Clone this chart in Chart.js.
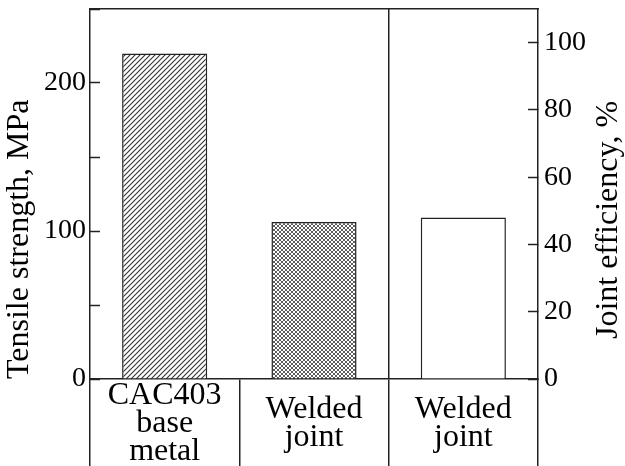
<!DOCTYPE html>
<html>
<head>
<meta charset="utf-8">
<title>Tensile strength and joint efficiency</title>
<script src="https://cdn.jsdelivr.net/npm/chart.js@4.4.1/dist/chart.umd.min.js"></script>
<style>
  html, body { margin: 0; padding: 0; background: #fff; }
  #wrap { width: 625px; height: 466px; position: relative; }
</style>
</head>
<body>
<div id="wrap"><canvas id="chart"></canvas></div>
<script>
// --- Data ---
const categories = [['CAC403', 'base', 'metal'], ['Welded', 'joint'], ['Welded', 'joint']];
const tensileStrength = [220, 106, null];   // MPa, left axis
const jointEfficiency = [null, null, 48];   // %, right axis
const leftTickLabels = [0, 100, 200];
const rightTickLabels = [0, 20, 40, 60, 80, 100];
const leftTitle = 'Tensile strength, MPa';
const rightTitle = 'Joint efficiency, %';

const INK = '#222';
const FONT = "'Liberation Serif', 'Times New Roman', serif";

// --- Fill patterns ---
const makePattern = (size, draw) => {
    const c = document.createElement('canvas');
    c.width = size;
    c.height = size;
    const g = c.getContext('2d');
    g.fillStyle = '#fff';
    g.fillRect(0, 0, size, size);
    g.strokeStyle = '#333';
    draw(g, size);
    return g.createPattern(c, 'repeat');
};

const hatch = makePattern(5, (g, s) => {
    g.lineWidth = 1.1;
    g.beginPath();
    for (let k = -1; k <= 1; k++) {
        g.moveTo(k * s - 1, s + 1);
        g.lineTo(k * s + s + 1, -1);
    }
    g.stroke();
});

const crossHatch = makePattern(4, (g, s) => {
    g.lineWidth = 0.8;
    g.beginPath();
    for (let k = -1; k <= 1; k++) {
        g.moveTo(k * s - 1, s + 1);
        g.lineTo(k * s + s + 1, -1);
        g.moveTo(k * s - 1, -1);
        g.lineTo(k * s + s + 1, s + 1);
    }
    g.stroke();
});

// keep the plot box exactly where the figure has it
const noPad = (s) => {
    s.paddingTop = 0;
    s.paddingBottom = 0;
    s.paddingLeft = 0;
    s.paddingRight = 0;
};

// --- Right axis title, reading bottom to top ---
const rightTitlePlugin = {
    id: 'rightTitle',
    afterDraw: (chart) => {
        const ctx = chart.ctx;
        ctx.save();
        ctx.translate(609, 220);
        ctx.rotate(-Math.PI / 2);
        ctx.font = `32px ${FONT}`;
        ctx.fillStyle = '#000';
        ctx.textAlign = 'center';
        ctx.textBaseline = 'middle';
        ctx.fillText(rightTitle, 0, 0);
        ctx.restore();
    }
};

const ctx = document.getElementById('chart').getContext('2d');
new Chart(ctx, {
    type: 'bar',
    data: {
        labels: categories,
        datasets: [
            {
                label: 'Tensile strength',
                data: tensileStrength,
                yAxisID: 'y',
                backgroundColor: [hatch, crossHatch, '#fff'],
                borderColor: INK,
                borderWidth: 1.5,
                grouped: false,
                categoryPercentage: 1,
                barPercentage: 0.57
            },
            {
                label: 'Joint efficiency',
                data: jointEfficiency,
                yAxisID: 'y1',
                backgroundColor: '#fff',
                borderColor: INK,
                borderWidth: 1.5,
                grouped: false,
                categoryPercentage: 1,
                barPercentage: 0.57
            }
        ]
    },
    options: {
        responsive: true,
        maintainAspectRatio: false,
        animation: false,
        layout: { padding: { top: 9, left: 0, right: 0, bottom: 0 } },
        plugins: { legend: { display: false }, tooltip: { enabled: false } },
        scales: {
            x: {
                type: 'category',
                offset: true,
                afterFit: (s) => { s.height = 87; noPad(s); },
                border: { display: true, color: INK, width: 1.5 },
                grid: {
                    offset: true,
                    drawTicks: true,
                    tickLength: 87,
                    tickWidth: 1.5,
                    tickColor: INK,
                    lineWidth: 1.5,
                    color: (c) => (c.index === 2 ? INK : 'rgba(0,0,0,0)')
                },
                ticks: {
                    autoSkip: false,
                    maxRotation: 0,
                    crossAlign: 'center',
                    padding: -70,
                    color: '#000',
                    font: { family: FONT, size: 32, lineHeight: 0.875 }
                }
            },
            xTop: {
                type: 'category',
                position: 'top',
                offset: true,
                afterFit: (s) => { s.height = 0; noPad(s); },
                border: { display: true, color: INK, width: 1.5 },
                grid: { display: false },
                ticks: { display: false }
            },
            y: {
                position: 'left',
                min: 0,
                max: 250,
                afterFit: (s) => { s.width = 90; noPad(s); },
                border: { display: true, color: INK, width: 1.5 },
                grid: { drawOnChartArea: false, tickLength: -10, tickWidth: 1.5, tickColor: INK },
                ticks: {
                    stepSize: 50,
                    padding: 14,
                    color: '#000',
                    font: { family: FONT, size: 28 },
                    callback: (v) => (leftTickLabels.includes(v) ? v : '')
                },
                title: {
                    display: true,
                    text: leftTitle,
                    align: 'start',
                    color: '#000',
                    padding: { top: 4, bottom: 0 },
                    font: { family: FONT, size: 32, lineHeight: 1 }
                }
            },
            y1: {
                position: 'right',
                min: 0,
                max: 110,
                afterFit: (s) => { s.width = 87; noPad(s); },
                border: { display: true, color: INK, width: 1.5 },
                grid: { drawOnChartArea: false, tickLength: -10, tickWidth: 1.5, tickColor: INK },
                ticks: {
                    stepSize: 10,
                    padding: 16,
                    color: '#000',
                    font: { family: FONT, size: 28 },
                    callback: (v) => (rightTickLabels.includes(v) ? v : '')
                }
            }
        }
    },
    plugins: [rightTitlePlugin]
});
</script>
</body>
</html>
